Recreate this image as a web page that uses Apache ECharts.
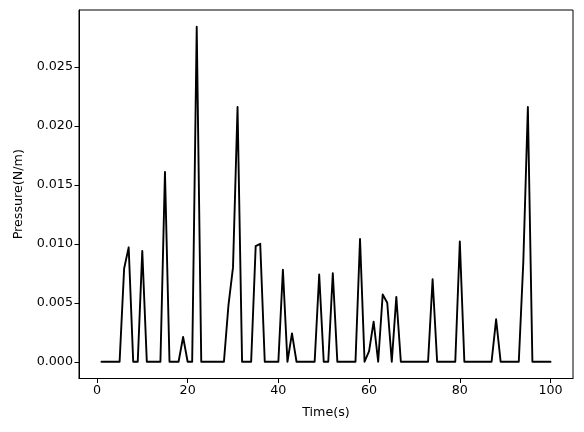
<!DOCTYPE html>
<html>
<head>
<meta charset="utf-8">
<script src="https://cdn.jsdelivr.net/npm/echarts@6/dist/echarts.min.js"></script>
<style>
html,body{margin:0;padding:0;background:#fff;}
#c{width:584px;height:432px;}
</style>
</head>
<body>
<div id="c"></div>
<script>
const times = [];
for (let t = 1; t <= 100; t++) times.push(t);
const pressure = [
  0, 0, 0, 0, 0, 0.0079, 0.0097, 0, 0, 0.0094,
  0, 0, 0, 0, 0.0161, 0, 0, 0, 0.0021, 0,
  0, 0.0284, 0, 0, 0, 0, 0, 0, 0.0048, 0.0080,
  0.0216, 0, 0, 0, 0.0098, 0.0100, 0, 0, 0, 0,
  0.0078, 0, 0.0024, 0, 0, 0, 0, 0, 0.0074, 0,
  0, 0.0075, 0, 0, 0, 0, 0, 0.0104, 0, 0.0009,
  0.0034, 0, 0.0057, 0.0050, 0, 0.0055, 0, 0, 0, 0,
  0, 0, 0, 0.0070, 0, 0, 0, 0, 0, 0.0102,
  0, 0, 0, 0, 0, 0, 0, 0.0036, 0, 0,
  0, 0, 0, 0.0085, 0.0216, 0, 0, 0, 0, 0
];
const xTicks = [0, 20, 40, 60, 80, 100];
const yTicks = [0, 0.005, 0.010, 0.015, 0.020, 0.025];

const font = 'DejaVu Sans';
const fs = 12.7;
const xSpan = times[times.length-1] - times[0];
const yMaxD = Math.max(...pressure), yMinD = Math.min(...pressure);
const ySpan = yMaxD - yMinD;

const chart = echarts.init(document.getElementById('c'), null, {renderer: 'canvas'});
chart.setOption({
  animation: false,
  backgroundColor: '#fff',
  grid: {left: 79, right: 11, top: 10, bottom: 53.5, show: true, borderColor: '#000', borderWidth: 1, containLabel: false},
  xAxis: {
    type: 'value',
    min: times[0] - 0.05 * xSpan,
    max: times[times.length-1] + 0.05 * xSpan,
    name: 'Time(s)', nameLocation: 'middle', nameGap: 28,
    nameTextStyle: {fontFamily: font, fontSize: fs, color: '#000'},
    splitLine: {show: false},
    axisLine: {show: true, onZero: false, lineStyle: {color: '#000', width: 1}},
    axisTick: {show: true, length: 4.5, customValues: xTicks, lineStyle: {color: '#000', width: 1}},
    axisLabel: {customValues: xTicks, margin: 6, fontFamily: font, fontSize: fs, color: '#000', showMinLabel: true, showMaxLabel: true}
  },
  yAxis: {
    type: 'value',
    min: yMinD - 0.05 * ySpan,
    max: yMaxD + 0.05 * ySpan,
    name: 'Pressure(N/m)', nameLocation: 'middle', nameGap: 54, nameRotate: 90,
    nameTextStyle: {fontFamily: font, fontSize: fs, color: '#000'},
    splitLine: {show: false},
    axisLine: {show: true, onZero: false, lineStyle: {color: '#000', width: 1}},
    axisTick: {show: true, length: 4.5, customValues: yTicks, lineStyle: {color: '#000', width: 1}},
    axisLabel: {customValues: yTicks, margin: 6, fontFamily: font, fontSize: fs, color: '#000',
      formatter: v => v.toFixed(3)}
  },
  series: [{
    type: 'line',
    data: times.map((t, i) => [t, pressure[i]]),
    showSymbol: false,
    symbol: 'none',
    lineStyle: {color: '#000', width: 1.9, join: 'round', cap: 'round'},
    itemStyle: {color: '#000'}
  }]
});
</script>
</body>
</html>
